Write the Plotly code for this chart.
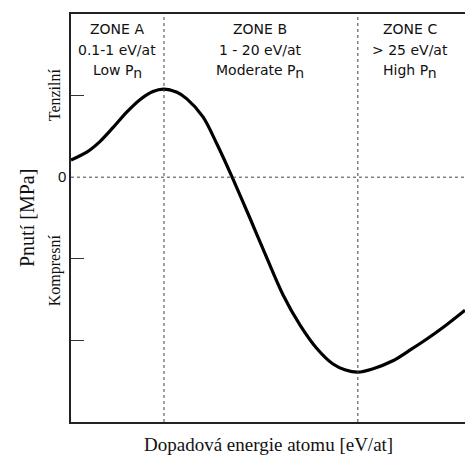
import plotly.graph_objects as go

# Curve: impact energy (arbitrary units, 0-100) vs. stress (arbitrary units)
energy = [0, 4.1, 7.4, 10.7, 14.2, 17.5, 20.8, 23.4, 26.9, 29.4, 33.5, 37.1, 40.9,
          45.4, 49.7, 53.8, 58.1, 62.4, 66.5, 69.5, 72.8, 76.5, 81.7, 86.0, 90.4, 95.0, 100]
stress = [0.21, 0.31, 0.44, 0.61, 0.80, 0.95, 1.05, 1.08, 1.04, 0.96, 0.74, 0.40, 0.0,
          -0.50, -0.99, -1.44, -1.81, -2.10, -2.29, -2.36, -2.39, -2.35, -2.25, -2.12,
          -1.98, -1.82, -1.63]

zone_bounds = [23.6, 72.8]
zone_centers = [11.8, 48.0, 86.0]
zone_lines = [
    ["ZONE A", "0.1-1 eV/at", "Low P<sub><span style='font-size:14px'>n</span></sub>"],
    ["ZONE B", "1 - 20 eV/at", "Moderate P<sub><span style='font-size:14px'>n</span></sub>"],
    ["ZONE C", "> 25 eV/at", "High P<sub><span style='font-size:14px'>n</span></sub>"],
]
ylabel_vals = [0]
ylabel_text = ["0"]
yminor_vals = [1, -1, -2]

fig = go.Figure()
fig.add_trace(go.Scatter(x=energy, y=stress, mode="lines",
                         line=dict(color="black", width=3.2, shape="spline", smoothing=0.9),
                         hoverinfo="skip", showlegend=False))

shapes = [dict(type="line", xref="paper", yref="y", x0=0, x1=1, y0=0, y1=0,
               line=dict(color="#444", width=1, dash="dot"))]
for b in zone_bounds:
    shapes.append(dict(type="line", xref="x", yref="paper", x0=b, x1=b, y0=0, y1=1,
                       line=dict(color="#444", width=1, dash="dot")))

annotations = []
row_y = [29, 50, 72]
for cx, lines in zip(zone_centers, zone_lines):
    for ry, t in zip(row_y, lines):
        annotations.append(dict(x=cx, y=1 - (ry - 14) / 408,
                                xref="x", yref="paper", text=t, showarrow=False,
                                font=dict(family="DejaVu Sans", size=14, color="#111"),
                                xanchor="center", yanchor="middle"))

annotations += [
    dict(x=-0.04, y=1 - (95 - 14) / 408, xref="paper", yref="paper", text="Tenzilní",
         textangle=-90, showarrow=False, xanchor="center", yanchor="middle",
         font=dict(family="Liberation Serif", size=16, color="#111")),
    dict(x=-0.04, y=1 - (270 - 14) / 408, xref="paper", yref="paper", text="Kompresní",
         textangle=-90, showarrow=False, xanchor="center", yanchor="middle",
         font=dict(family="Liberation Serif", size=16, color="#111")),
    dict(x=(27 - 71) / 394, y=1 - (218 - 14) / 408, xref="paper", yref="paper", text="Pnutí [MPa]",
         textangle=-90, showarrow=False, xanchor="center", yanchor="middle",
         font=dict(family="Liberation Serif", size=20, color="#111")),
    dict(x=(268 - 71) / 394, y=-(444 - 422) / 408, xref="paper", yref="paper",
         text="Dopadová energie atomu [eV/at]", showarrow=False,
         xanchor="center", yanchor="middle",
         font=dict(family="Liberation Serif", size=19, color="#111")),
]

fig.update_layout(
    width=465, height=461,
    margin=dict(l=71, r=0, t=14, b=39),
    paper_bgcolor="white", plot_bgcolor="white",
    shapes=shapes, annotations=annotations,
    xaxis=dict(range=[0, 100], showgrid=False, zeroline=False, showticklabels=False,
               ticks="", showline=True, mirror=True, linecolor="#222", linewidth=1.5),
    yaxis=dict(range=[-3, 2], showgrid=False, zeroline=False,
               tickmode="array", tickvals=ylabel_vals, ticktext=ylabel_text,
               ticks="inside", ticklen=0, tickcolor="#333", tickwidth=1,
               minor=dict(tickmode="array", tickvals=yminor_vals, ticks="inside",
                          ticklen=13, tickcolor="#333", tickwidth=1, showgrid=False),
               tickfont=dict(family="Liberation Sans", size=15, color="#111"),
               showline=True, linecolor="#222", linewidth=1.5),
)

fig.write_html("out.html")
